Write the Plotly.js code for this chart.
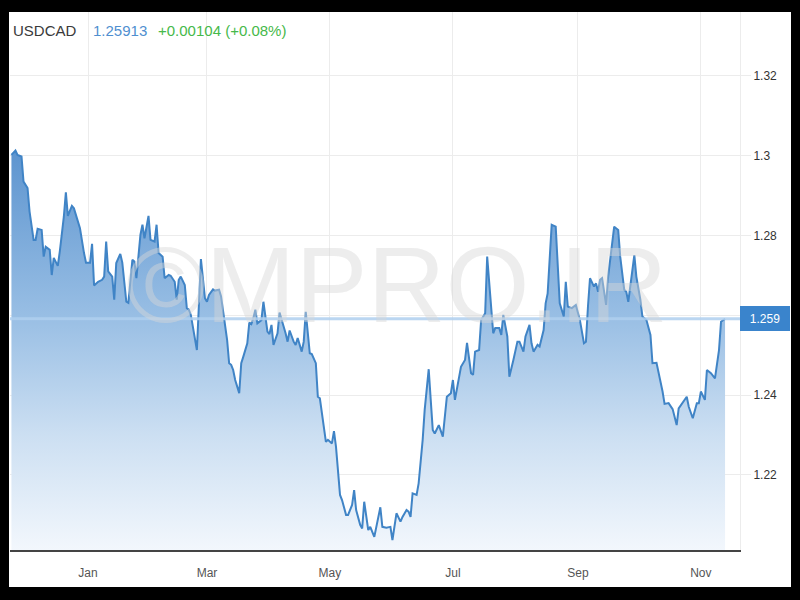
<!DOCTYPE html>
<html>
<head>
<meta charset="utf-8">
<script src="https://cdn.plot.ly/plotly-3.0.1.min.js"></script>
<style>
  html, body { margin: 0; padding: 0; background: #000; width: 800px; height: 600px; overflow: hidden; }
  #chart { position: absolute; left: 9px; top: 12px; width: 782px; height: 575px; background: #fff; }
</style>
</head>
<body>
<div id="chart"></div>
<script>
// ---- data ----
const symbol = "USDCAD";
const lastPrice = "1.25913";
const change = "+0.00104 (+0.08%)";
const priceTag = "1.259";
const lastValue = 1.25913;

const dates = [
  "2020-11-24","2020-11-26","2020-11-27","2020-11-29","2020-11-30","2020-12-02","2020-12-03","2020-12-05","2020-12-06","2020-12-07",
  "2020-12-09","2020-12-10","2020-12-11","2020-12-13","2020-12-14","2020-12-15","2020-12-17","2020-12-18","2020-12-20","2020-12-21",
  "2020-12-22","2020-12-24","2020-12-25","2020-12-26","2020-12-28","2020-12-30","2020-12-31","2021-01-02","2021-01-03","2021-01-04",
  "2021-01-06","2021-01-08","2021-01-09","2021-01-10","2021-01-11","2021-01-13","2021-01-14","2021-01-15","2021-01-17","2021-01-18",
  "2021-01-20","2021-01-21","2021-01-23","2021-01-24","2021-01-25","2021-01-27","2021-01-28","2021-01-29","2021-01-31","2021-02-01",
  "2021-02-03","2021-02-04","2021-02-05","2021-02-07","2021-02-08","2021-02-10","2021-02-11","2021-02-13","2021-02-14","2021-02-15",
  "2021-02-16","2021-02-18","2021-02-19","2021-02-20","2021-02-21","2021-02-24","2021-02-25","2021-02-26","2021-02-28","2021-03-01",
  "2021-03-02","2021-03-04","2021-03-05","2021-03-07","2021-03-08","2021-03-09","2021-03-11","2021-03-12","2021-03-13","2021-03-14",
  "2021-03-15","2021-03-17","2021-03-18","2021-03-19","2021-03-21","2021-03-22","2021-03-23","2021-03-24","2021-03-25","2021-03-26",
  "2021-03-28","2021-03-29","2021-03-31","2021-04-01","2021-04-02","2021-04-03","2021-04-05","2021-04-06","2021-04-08","2021-04-09",
  "2021-04-10","2021-04-11","2021-04-13","2021-04-14","2021-04-15","2021-04-17","2021-04-18","2021-04-19","2021-04-21","2021-04-22",
  "2021-04-24","2021-04-25","2021-04-26","2021-04-28","2021-04-29","2021-04-30","2021-05-02","2021-05-03","2021-05-04","2021-05-06",
  "2021-05-07","2021-05-09","2021-05-10","2021-05-12","2021-05-13","2021-05-14","2021-05-16","2021-05-17","2021-05-18","2021-05-20",
  "2021-05-21","2021-05-23","2021-05-24","2021-05-26","2021-05-27","2021-05-28","2021-05-29","2021-05-31","2021-06-01","2021-06-03",
  "2021-06-05","2021-06-06","2021-06-08","2021-06-09","2021-06-10","2021-06-11","2021-06-13","2021-06-14","2021-06-16","2021-06-17",
  "2021-06-19","2021-06-20","2021-06-21","2021-06-22","2021-06-24","2021-06-26","2021-06-28","2021-06-30","2021-07-01","2021-07-02",
  "2021-07-05","2021-07-07","2021-07-08","2021-07-10","2021-07-11","2021-07-12","2021-07-14","2021-07-15","2021-07-17","2021-07-18",
  "2021-07-19","2021-07-21","2021-07-22","2021-07-24","2021-07-25","2021-07-26","2021-07-28","2021-07-29","2021-07-31","2021-08-02",
  "2021-08-03","2021-08-05","2021-08-06","2021-08-08","2021-08-09","2021-08-10","2021-08-12","2021-08-13","2021-08-15","2021-08-16",
  "2021-08-17","2021-08-18","2021-08-19","2021-08-21","2021-08-22","2021-08-23","2021-08-25","2021-08-26","2021-08-27","2021-08-29",
  "2021-08-31","2021-09-02","2021-09-04","2021-09-05","2021-09-06","2021-09-07","2021-09-09","2021-09-10","2021-09-11","2021-09-12",
  "2021-09-13","2021-09-15","2021-09-16","2021-09-18","2021-09-19","2021-09-21","2021-09-22","2021-09-24","2021-09-25","2021-09-26",
  "2021-09-27","2021-09-29","2021-09-30","2021-10-02","2021-10-03","2021-10-05","2021-10-07","2021-10-08","2021-10-10","2021-10-11",
  "2021-10-13","2021-10-14","2021-10-16","2021-10-18","2021-10-20","2021-10-21","2021-10-23","2021-10-25","2021-10-26","2021-10-28",
  "2021-10-30","2021-10-31","2021-11-01","2021-11-03","2021-11-04","2021-11-06","2021-11-08","2021-11-10","2021-11-11","2021-11-13"
];

const rates = [
  1.3002,1.3013,1.3002,1.2998,1.2935,1.2919,1.2860,1.2789,1.2789,1.2817,
  1.2814,1.2747,1.2772,1.2764,1.2701,1.2744,1.2724,1.2760,1.2847,1.2908,
  1.2849,1.2874,1.2868,1.2852,1.2818,1.2756,1.2732,1.2732,1.2779,1.2675,
  1.2684,1.2689,1.2697,1.2785,1.2710,1.2697,1.2639,1.2731,1.2754,1.2732,
  1.2634,1.2631,1.2739,1.2735,1.2693,1.2802,1.2827,1.2793,1.2849,1.2789,
  1.2785,1.2827,1.2756,1.2747,1.2693,1.2701,1.2699,1.2684,1.2639,1.2689,
  1.2697,1.2676,1.2618,1.2614,1.2601,1.2513,1.2614,1.2741,1.2643,1.2634,
  1.2651,1.2665,1.2662,1.2664,1.2647,1.2614,1.2538,1.2480,1.2476,1.2463,
  1.2438,1.2405,1.2480,1.2496,1.2530,1.2582,1.2578,1.2593,1.2614,1.2580,
  1.2588,1.2634,1.2559,1.2553,1.2576,1.2526,1.2555,1.2607,1.2576,1.2555,
  1.2534,1.2562,1.2534,1.2526,1.2543,1.2509,1.2534,1.2609,1.2505,1.2503,
  1.2480,1.2396,1.2392,1.2317,1.2283,1.2288,1.2279,1.2310,1.2271,1.2150,
  1.2137,1.2100,1.2100,1.2125,1.2162,1.2112,1.2075,1.2066,1.2133,1.2062,
  1.2070,1.2045,1.2070,1.2119,1.2070,1.2068,1.2068,1.2070,1.2037,1.2104,
  1.2083,1.2095,1.2112,1.2108,1.2095,1.2154,1.2150,1.2179,1.2288,1.2363,
  1.2465,1.2388,1.2313,1.2304,1.2325,1.2296,1.2396,1.2405,1.2438,1.2388,
  1.2471,1.2488,1.2531,1.2455,1.2451,1.2509,1.2513,1.2588,1.2605,1.2747,
  1.2689,1.2555,1.2568,1.2568,1.2551,1.2601,1.2547,1.2446,1.2488,1.2534,
  1.2534,1.2509,1.2547,1.2576,1.2530,1.2509,1.2526,1.2522,1.2563,1.2630,
  1.2655,1.2731,1.2827,1.2822,1.2722,1.2630,1.2597,1.2684,1.2622,1.2618,
  1.2626,1.2588,1.2530,1.2534,1.2622,1.2693,1.2672,1.2680,1.2659,1.2689,
  1.2693,1.2626,1.2697,1.2772,1.2822,1.2814,1.2747,1.2664,1.2659,1.2634,
  1.2676,1.2751,1.2697,1.2639,1.2597,1.2588,1.2551,1.2480,1.2481,1.2459,
  1.2409,1.2378,1.2380,1.2365,1.2325,1.2367,1.2380,1.2396,1.2371,1.2342,
  1.2380,1.2380,1.2409,1.2388,1.2463,1.2455,1.2442,1.2513,1.2584,1.25913
];

const monthTicks = ["2021-01-01","2021-03-01","2021-05-01","2021-07-01","2021-09-01","2021-11-01"];
const monthLabels = ["Jan","Mar","May","Jul","Sep","Nov"];
const yTicks = [1.22, 1.24, 1.26, 1.28, 1.30, 1.32];
const yLabels = ["1.22", "1.24", "", "1.28", "1.3", "1.32"];
const watermark = "©MPRO.IR";

// ---- chart ----
const font = "Liberation Sans, Arial, Helvetica, sans-serif";

const trace = {
  type: "scatter",
  mode: "lines",
  x: dates,
  y: rates,
  line: { color: "rgb(64,132,198)", width: 2 },
  fill: "tozeroy",
  fillgradient: {
    type: "vertical",
    start: 1.20,
    stop: 1.30,
    colorscale: [
      [0, "rgb(244,248,253)"],
      [0.3, "rgb(204,223,242)"],
      [0.6, "rgb(152,190,228)"],
      [1, "rgb(95,150,208)"]
    ]
  },
  hoverinfo: "skip"
};

const layout = {
  width: 782,
  height: 575,
  margin: { l: 1, r: 51, t: 0, b: 37, pad: 0 },
  paper_bgcolor: "#ffffff",
  plot_bgcolor: "#ffffff",
  showlegend: false,
  font: { family: font, size: 12, color: "#333" },
  xaxis: {
    type: "date",
    range: ["2020-11-23 07:00", "2021-11-20 10:00"],
    tickmode: "array",
    tickvals: monthTicks,
    ticktext: monthLabels,
    showgrid: true,
    gridcolor: "#ececec",
    gridwidth: 1,
    showline: true,
    linecolor: "#444",
    linewidth: 1.5,
    ticks: "outside",
    ticklen: 11,
    tickcolor: "rgba(0,0,0,0)",
    tickfont: { family: font, size: 12, color: "#555" },
    zeroline: false,
    fixedrange: true
  },
  yaxis: {
    side: "right",
    range: [1.2012, 1.336],
    tickmode: "array",
    tickvals: yTicks,
    ticktext: yLabels,
    showgrid: true,
    gridcolor: "#ececec",
    gridwidth: 1,
    showline: true,
    linecolor: "#ececec",
    linewidth: 1,
    ticks: "outside",
    ticklen: 10,
    tickcolor: "#ececec",
    tickfont: { family: font, size: 12, color: "#333" },
    zeroline: false,
    fixedrange: true
  },
  shapes: [
    {
      type: "line", xref: "paper", x0: 0, x1: 1, yref: "y", y0: lastValue, y1: lastValue,
      line: { color: "rgba(175,207,238,0.85)", width: 3 }, layer: "above"
    }
  ],
  annotations: [
    {
      text: watermark, xref: "paper", yref: "paper", x: 0.530, y: 0.4926,
      xanchor: "center", yanchor: "middle", showarrow: false,
      font: { family: font, size: 108, color: "rgba(215,215,215,0.45)" }
    },
    {
      text: symbol, xref: "paper", yref: "paper", x: 0.0014, y: 0.9665,
      xanchor: "left", yanchor: "middle", showarrow: false,
      font: { family: font, size: 15, color: "#3a3a3a" }
    },
    {
      text: lastPrice, xref: "paper", yref: "paper", x: 0.1110, y: 0.9665,
      xanchor: "left", yanchor: "middle", showarrow: false,
      font: { family: font, size: 15, color: "#4f8fd0" }
    },
    {
      text: change, xref: "paper", yref: "paper", x: 0.2000, y: 0.9665,
      xanchor: "left", yanchor: "middle", showarrow: false,
      font: { family: font, size: 15, color: "#46b94a" }
    },
    {
      text: priceTag, xref: "paper", yref: "y", x: 1, y: lastValue,
      xanchor: "left", yanchor: "middle", showarrow: false,
      bgcolor: "#3a84cc", bordercolor: "#3a84cc", borderwidth: 1, borderpad: 2,
      width: 44, height: 19,
      font: { family: font, size: 12, color: "#ffffff" }
    }
  ]
};

Plotly.newPlot("chart", [trace], layout, { displayModeBar: false, staticPlot: true });
</script>
</body>
</html>
